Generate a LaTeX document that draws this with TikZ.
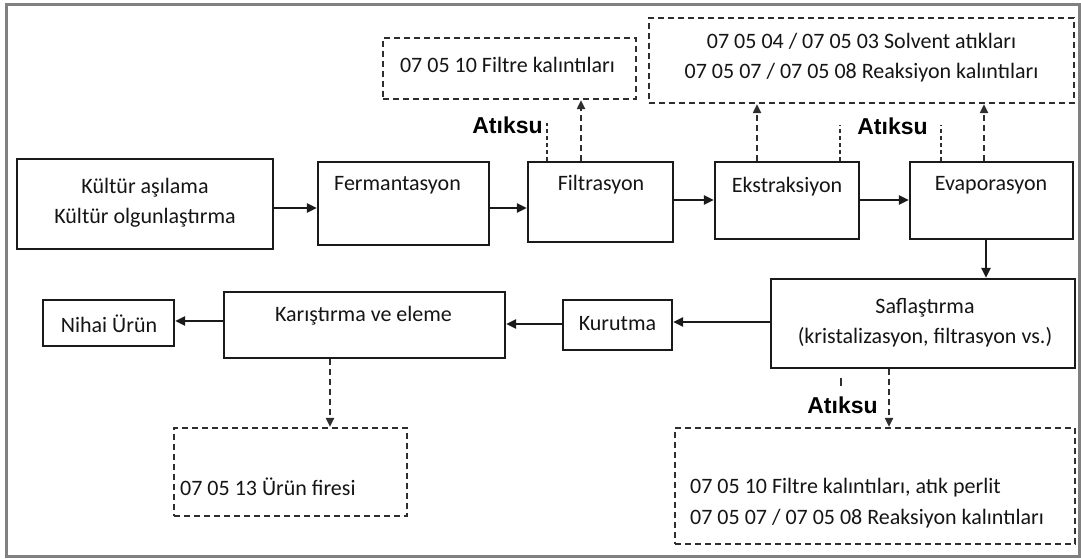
\documentclass[tikz,border=0pt]{standalone}
\usepackage{fontspec}
\setmainfont{Carlito}
\newfontfamily\atikfont{Liberation Sans}
\usetikzlibrary{arrows.meta}
\definecolor{linec}{HTML}{1A1A1A}
\definecolor{dashc}{HTML}{2E2E2E}
\definecolor{framec}{HTML}{808080}
\definecolor{txtc}{HTML}{151515}
\tikzset{
  box/.style={draw=linec, line width=2.4pt, inner sep=0pt, fill=white},
  wbox/.style={draw=dashc, line width=2.2pt, dash pattern=on 6pt off 4pt, inner sep=0pt},
  txt/.style={inner sep=0pt, text=txtc, font=\fontsize{22pt}{30pt}\selectfont, align=center},
  ltxt/.style={inner sep=0pt, text=txtc, font=\fontsize{22pt}{31pt}\selectfont, align=left},
  atik/.style={inner sep=0pt, font=\atikfont\bfseries\fontsize{23pt}{27pt}\selectfont},
  arr/.style={draw=linec, line width=2.4pt, -{Triangle[length=10pt,width=9pt]}},
  darr/.style={draw=dashc, line width=1.9pt, dash pattern=on 6pt off 4pt, -{Triangle[length=9pt,width=8pt]}},
  stub/.style={draw=dashc, line width=1.9pt, dash pattern=on 4pt off 3pt},
}
\begin{document}
\begin{tikzpicture}[x=1pt,y=-1pt]
\useasboundingbox (0,0) rectangle (1081,559);
\fill[white] (0,0) rectangle (1081,559);
\draw[framec, line width=3pt] (6,5) rectangle (1079,556);

% process boxes
\node[box, minimum width=256pt, minimum height=90pt] (kultur) at (145,204) {};
\node[txt] (kulturt) at (145,203) {Kültür aşılama\\Kültür olgunlaştırma};
\node[box, minimum width=171pt, minimum height=83pt] (ferm) at (403.5,203.5) {};
\node[txt] (fermt) at (397.5,185) {Fermantasyon};
\node[box, minimum width=145pt, minimum height=80pt] (filt) at (600.5,202) {};
\node[txt] (filtt) at (601,185) {Filtrasyon};
\node[box, minimum width=144pt, minimum height=77pt] (eks) at (787,200.5) {};
\node[txt] (ekst) at (787,187) {Ekstraksiyon};
\node[box, minimum width=163pt, minimum height=77pt] (evap) at (991.5,200.5) {};
\node[txt] (evapt) at (991,185) {Evaporasyon};
\node[box, minimum width=304pt, minimum height=89pt] (saf) at (923,323.5) {};
\node[txt] (saft) at (925,323) {Saflaştırma\\(kristalizasyon, filtrasyon vs.)};
\node[box, minimum width=109pt, minimum height=50pt] (kur) at (617.5,325) {};
\node[txt] (kurt) at (617.5,324) {Kurutma};
\node[box, minimum width=281pt, minimum height=66pt] (karis) at (364.5,325) {};
\node[txt] (karist) at (363.5,316) {Karıştırma ve eleme};
\node[box, minimum width=131pt, minimum height=46pt] (nihai) at (108.5,323) {};
\node[txt] (nihait) at (109,324) {Nihai Ürün};

% waste boxes
\node[wbox, minimum width=253pt, minimum height=61pt] (filtre) at (509.5,68.5) {};
\node[txt] (filtret) at (507.5,65) {07 05 10 Filtre kalıntıları};
\node[wbox, minimum width=425pt, minimum height=85pt] (solv) at (861.5,60.5) {};
\node[txt] (solvt) at (861.5,57.5) {07 05 04 / 07 05 03 Solvent atıkları\\07 05 07 / 07 05 08 Reaksiyon kalıntıları};
\node[wbox, minimum width=233pt, minimum height=88pt] (urun) at (290.5,472) {};
\node[ltxt, anchor=west] (urunt) at (180,487) {07 05 13 Ürün firesi};
\node[wbox, minimum width=400pt, minimum height=116pt] (br) at (875,486) {};
\node[ltxt, anchor=west] (brt) at (690,503) {07 05 10 Filtre kalıntıları, atık perlit\\07 05 07 / 07 05 08 Reaksiyon kalıntıları};

% Atıksu labels
\node[atik] (a1) at (507.5,125) {Atıksu};
\node[atik] (a2) at (892.5,126) {Atıksu};
\node[atik] (a3) at (842.5,405) {Atıksu};

% main flow
\draw[arr] (kultur.east |- 0,208) -- (ferm.west |- 0,208);
\draw[arr] (ferm.east |- 0,208) -- (filt.west |- 0,208);
\draw[arr] (filt.east |- 0,200) -- (eks.west |- 0,200);
\draw[arr] (eks.east |- 0,200) -- (evap.west |- 0,200);
\draw[arr] (evap.south -| 986,0) -- (saf.north -| 986,0);
\draw[arr] (saf.west |- 0,322) -- (kur.east |- 0,322);
\draw[arr] (kur.west |- 0,324) -- (karis.east |- 0,324);
\draw[arr] (karis.west |- 0,321) -- (nihai.east |- 0,321);

% waste arrows
\draw[darr] (filt.north -| 581,0) -- (filtre.south -| 581,0);
\draw[darr] (eks.north -| 757,0) -- (solv.south -| 757,0);
\draw[darr] (evap.north -| 984,0) -- (solv.south -| 984,0);
\draw[darr] (karis.south -| 330,0) -- (urun.north -| 330,0);
\draw[darr] (saf.south -| 889,0) -- (br.north -| 889,0);

% short waste-water stubs
\coordinate (s1) at (547,123);
\coordinate (s2) at (840,125);
\coordinate (s3) at (941,125);
\coordinate (s4) at (841,386);
\draw[stub] (filt.north -| s1) -- (s1);
\draw[stub] (eks.north -| s2) -- (s2);
\draw[stub] (evap.north -| s3) -- (s3);
\draw[stub, dash pattern=on 0pt off 9pt on 8pt off 20pt] (saf.south -| s4) -- (s4);
\end{tikzpicture}
\end{document}
